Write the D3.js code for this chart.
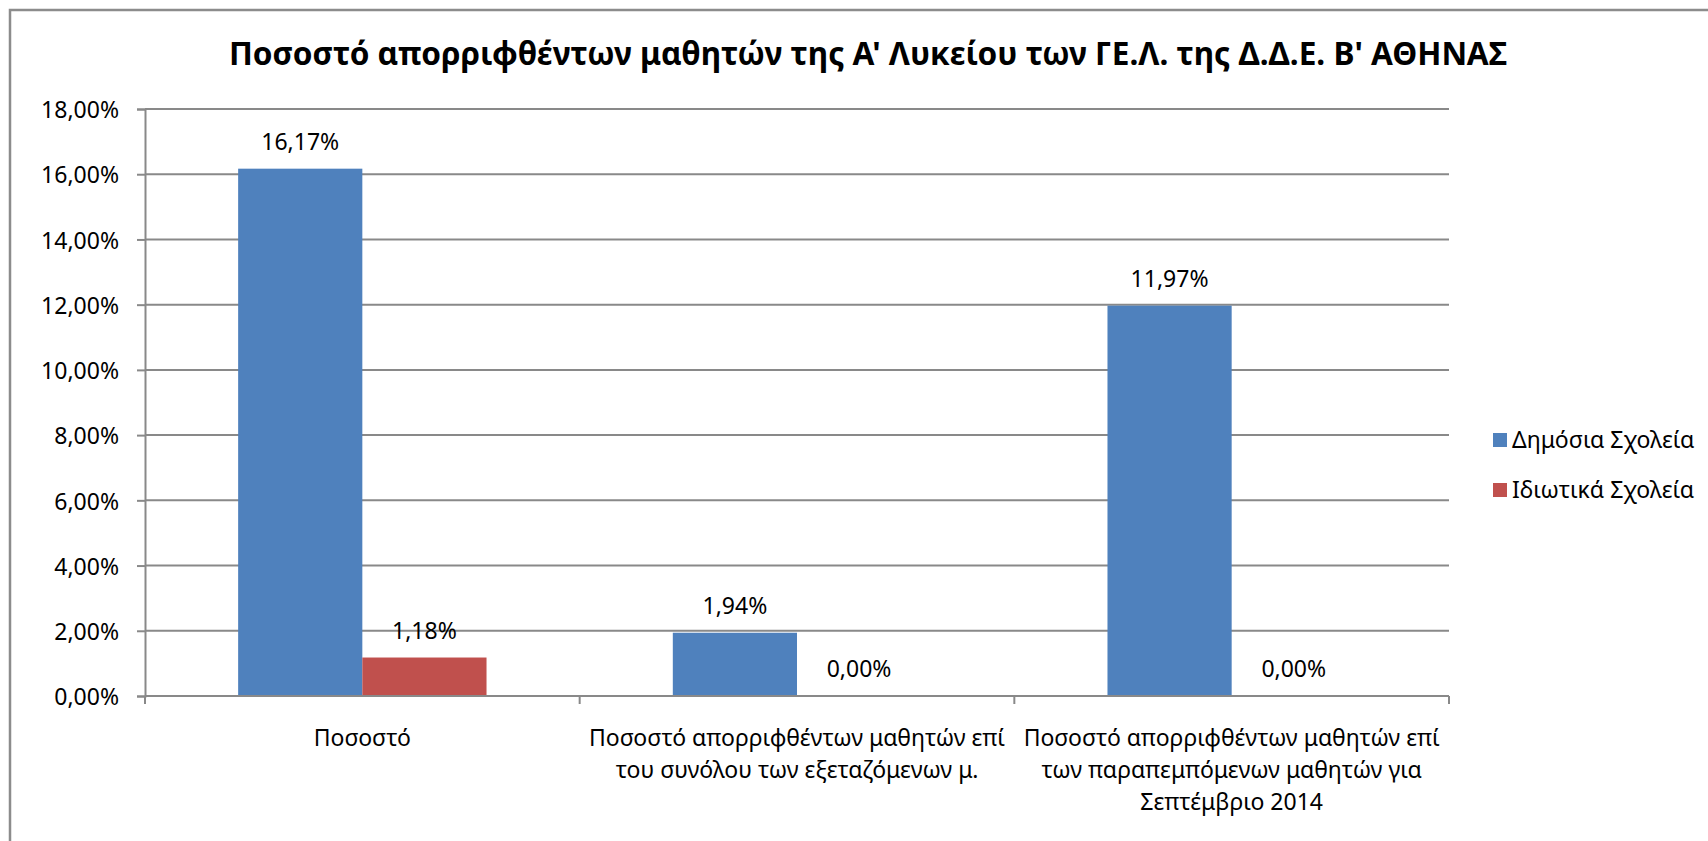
<!DOCTYPE html>
<html>
<head>
<meta charset="utf-8">
<title>Ποσοστό απορριφθέντων</title>
<script src="https://cdn.jsdelivr.net/npm/d3@7"></script>
<style>
  body { margin: 0; background: #fff; }
  text { font-family: "Noto Sans", "DejaVu Sans", sans-serif; fill: #000; }
</style>
</head>
<body>
<svg id="chart" width="1708" height="841"></svg>
<script>
// data
var categories = [
  "Ποσοστό",
  "Ποσοστό απορριφθέντων μαθητών επί\nτου συνόλου των εξεταζόμενων μ.",
  "Ποσοστό απορριφθέντων μαθητών επί\nτων παραπεμπόμενων μαθητών για\nΣεπτέμβριο 2014"
];
var seriesNames = ["Δημόσια Σχολεία", "Ιδιωτικά Σχολεία"];
var publicVals = [16.17, 1.94, 11.97];
var privateVals = [1.18, 0.00, 0.00];
var yTicks = [0, 2, 4, 6, 8, 10, 12, 14, 16, 18];
var colors = ["#4F81BD", "#C0504D"];
var title = "Ποσοστό απορριφθέντων μαθητών της Α' Λυκείου των ΓΕ.Λ. της Δ.Δ.Ε. Β' ΑΘΗΝΑΣ";

var svg = d3.select("#chart");
var plotLeft = 145, plotRight = 1449, plotTop = 109, plotBottom = 696;
var gridColor = "#898989";

// outer frame
svg.append("rect")
  .attr("x", 10).attr("y", 10)
  .attr("width", 1740).attr("height", 880)
  .attr("fill", "none").attr("stroke", "#8c8c8c").attr("stroke-width", 2.5);

svg.append("text")
  .attr("x", 868).attr("y", 65)
  .attr("text-anchor", "middle")
  .style("font-size", "31.6px").style("font-weight", "bold")
  .text(title);

var y = d3.scaleLinear().domain([0, 18]).range([plotBottom, plotTop]);
var x0 = d3.scaleBand().domain(d3.range(categories.length)).range([plotLeft, plotRight]).paddingInner(0).paddingOuter(0);
// excel gap width 150% -> each bar is 1/3.5 of the category
var x1 = d3.scaleBand().domain([0, 1]).range([0, x0.bandwidth()]).paddingInner(0).paddingOuter(0.75);

// gridlines
svg.append("g").selectAll("line")
  .data(yTicks.filter(function (d) { return d > 0; }))
  .enter().append("line")
  .attr("x1", plotLeft).attr("x2", plotRight)
  .attr("y1", function (d) { return y(d); })
  .attr("y2", function (d) { return y(d); })
  .attr("stroke", gridColor).attr("stroke-width", 2);

// y axis
var yAxis = d3.axisLeft(y).tickValues(yTicks).tickSize(8).tickPadding(18)
  .tickFormat(function (d) { return d3.format(".2f")(d).replace(".", ",") + "%"; });
var gy = svg.append("g").attr("transform", "translate(" + plotLeft + ",0)").call(yAxis);
gy.select(".domain").attr("stroke", gridColor).attr("stroke-width", 2);
gy.selectAll(".tick line").attr("stroke", gridColor).attr("stroke-width", 2);
gy.selectAll(".tick text").style("font-size", "23px").attr("font-family", null).attr("dy", "0.38em");

// bars
var rows = categories.map(function (c, i) { return [publicVals[i], privateVals[i]]; });
var groups = svg.append("g").selectAll("g")
  .data(rows).enter().append("g")
  .attr("transform", function (d, i) { return "translate(" + x0(i) + ",0)"; });

groups.selectAll("rect")
  .data(function (d) { return d; })
  .enter().append("rect")
  .attr("x", function (d, j) { return x1(j); })
  .attr("width", x1.bandwidth())
  .attr("y", function (d) { return y(d); })
  .attr("height", function (d) { return plotBottom - y(d); })
  .attr("fill", function (d, j) { return colors[j]; });

groups.selectAll("text")
  .data(function (d) { return d; })
  .enter().append("text")
  .attr("x", function (d, j) { return x1(j) + x1.bandwidth() / 2; })
  .attr("y", function (d) { return y(d) - 19; })
  .attr("text-anchor", "middle")
  .style("font-size", "23px")
  .text(function (d) { return d3.format(".2f")(d).replace(".", ",") + "%"; });

// x axis
var gx = svg.append("g").attr("transform", "translate(0," + plotBottom + ")");
gx.append("line").attr("x1", plotLeft).attr("x2", plotRight)
  .attr("stroke", gridColor).attr("stroke-width", 2);
gx.selectAll(".tk")
  .data(d3.range(categories.length + 1))
  .enter().append("line").attr("class", "tk")
  .attr("x1", function (i) { return plotLeft + i * x0.bandwidth(); })
  .attr("x2", function (i) { return plotLeft + i * x0.bandwidth(); })
  .attr("y1", 0).attr("y2", 8)
  .attr("stroke", gridColor).attr("stroke-width", 2);

gx.selectAll(".lbl")
  .data(categories)
  .enter().append("text").attr("class", "lbl")
  .attr("text-anchor", "middle")
  .style("font-size", "23px")
  .each(function (c, i) {
    var t = d3.select(this);
    c.split("\n").forEach(function (line, k) {
      t.append("tspan")
        .attr("x", x0(i) + x0.bandwidth() / 2)
        .attr("y", 50 + k * 32)
        .text(line);
    });
  });

// legend
var legend = svg.append("g").selectAll("g")
  .data(seriesNames).enter().append("g")
  .attr("transform", function (d, i) { return "translate(1493," + (433 + i * 50) + ")"; });
legend.append("rect").attr("width", 14).attr("height", 14)
  .attr("fill", function (d, i) { return colors[i]; });
legend.append("text").attr("x", 19).attr("y", 15)
  .style("font-size", "23px")
  .text(function (d) { return d; });
</script>
</body>
</html>
